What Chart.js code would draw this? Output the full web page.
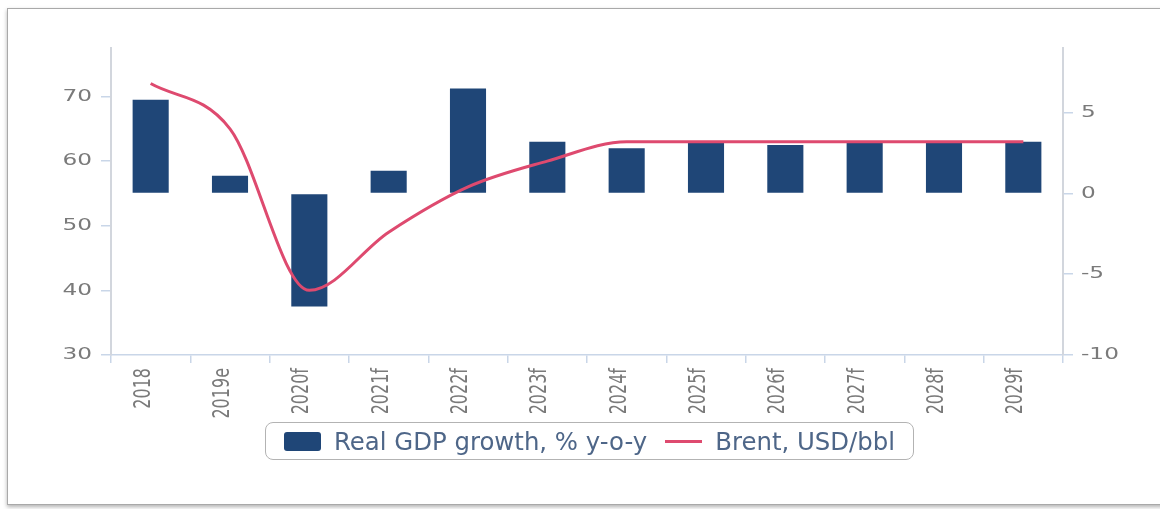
<!DOCTYPE html>
<html>
<head>
<meta charset="utf-8">
<script src="https://cdn.jsdelivr.net/npm/chart.js@4.4.1/dist/chart.umd.min.js"></script>
<style>
  html, body { margin: 0; padding: 0; background: #fff; }
  .wrap { position: relative; width: 1160px; height: 509px; overflow: hidden; }
  .frame {
    position: absolute; left: 7px; top: 8px; width: 1180px; height: 495px;
    border: 1.5px solid #a9a9a9; box-shadow: 0 2px 4px rgba(0, 0, 0, 0.3);
    pointer-events: none;
  }
  #gdpChart { position: absolute; left: 0; top: 0; }
  .legend {
    position: absolute; left: 265px; top: 422px; width: 649px; height: 38px;
    box-sizing: border-box; border: 1.5px solid #b3b3b3; border-radius: 8px;
    display: flex; align-items: center; padding-left: 18px;
    font-family: "DejaVu Sans", sans-serif; font-size: 24.4px; color: #4e6688;
    white-space: nowrap;
  }
  .legend .bar-swatch { width: 37px; height: 19px; border-radius: 3px; margin-right: 13px; }
  .legend .line-swatch { width: 37px; height: 3px; margin: 0 13px 0 18px; }
</style>
</head>
<body>
<div class="wrap">
  <canvas id="gdpChart" width="1160" height="509"></canvas>
  <div class="frame"></div>
  <div class="legend" id="legend"></div>
</div>
<script>
const categories = ['2018', '2019e', '2020f', '2021f', '2022f', '2023f', '2024f', '2025f', '2026f', '2027f', '2028f', '2029f'];
const gdpGrowth = [5.8, 1.1, -7.0, 1.4, 6.5, 3.2, 2.8, 3.2, 3.0, 3.2, 3.2, 3.2];
const brentPrice = [72, 65, 40, 49, 56, 60, 63, 63, 63, 63, 63, 63];
const brentTicks = [30, 40, 50, 60, 70];
const gdpTicks = [-10, -5, 0, 5];

const GDP_LABEL = 'Real GDP growth, % y-o-y';
const BRENT_LABEL = 'Brent, USD/bbl';
const NAVY = '#1f4677';
const PINK = '#de4a6f';
const AXIS = '#c9d6e8';
const TICK_TEXT = '#7a7a7a';
const STRETCH = 1.45;

// tick labels are drawn by hand so they can be widened a little
function drawStretched(ctx, text, x, y, align, rotate) {
  ctx.save();
  ctx.translate(x, y);
  ctx.scale(STRETCH, 1);
  if (rotate) ctx.rotate(-Math.PI / 2);
  ctx.textAlign = align;
  ctx.textBaseline = 'middle';
  ctx.fillText(text, 0, 0);
  ctx.restore();
}

const tickLabels = {
  id: 'tickLabels',
  afterDraw(chart) {
    const { ctx, scales } = chart;
    ctx.save();
    ctx.fillStyle = TICK_TEXT;
    ctx.font = '16px "DejaVu Sans"';
    scales.y.ticks.forEach((t) => {
      drawStretched(ctx, String(t.value), 92, scales.y.getPixelForValue(t.value), 'right', false);
    });
    scales.y1.ticks.forEach((t) => {
      drawStretched(ctx, String(t.value), 1081, scales.y1.getPixelForValue(t.value), 'left', false);
    });
    chart.data.labels.forEach((label, i) => {
      drawStretched(ctx, label, scales.x.getPixelForValue(i) - 7, 368, 'right', true);
    });
    ctx.restore();
  }
};

function keepTicks(values) {
  return (scale) => {
    scale.ticks = scale.ticks.filter((t) => values.includes(t.value));
  };
}

function axisGrid(tickLength) {
  return { drawOnChartArea: false, tickLength, color: AXIS, lineWidth: 1.5 };
}

new Chart(document.getElementById('gdpChart'), {
  type: 'bar',
  data: {
    labels: categories,
    datasets: [
      {
        type: 'line',
        label: BRENT_LABEL,
        data: brentPrice,
        yAxisID: 'y',
        borderColor: PINK,
        borderWidth: 3,
        pointRadius: 0,
        cubicInterpolationMode: 'monotone',
        order: 0
      },
      {
        type: 'bar',
        label: GDP_LABEL,
        data: gdpGrowth,
        yAxisID: 'y1',
        backgroundColor: NAVY,
        borderWidth: 0,
        barPercentage: 0.455,
        categoryPercentage: 1,
        order: 1
      }
    ]
  },
  options: {
    responsive: false,
    animation: false,
    layout: { padding: { top: 48, bottom: 124, left: 0, right: 0 } },
    plugins: { legend: { display: false }, tooltip: { enabled: false } },
    scales: {
      x: {
        grid: { ...axisGrid(8), offset: true },
        border: { color: AXIS, width: 1.5 },
        ticks: { display: false },
        afterFit: (scale) => { scale.height = 30; }
      },
      y: {
        position: 'left',
        min: 30,
        max: 77.5,
        ticks: { display: false, stepSize: 10 },
        afterBuildTicks: keepTicks(brentTicks),
        grid: axisGrid(10),
        border: { color: '#d2d6dd', width: 2 },
        afterFit: (scale) => { scale.width = 111; }
      },
      y1: {
        position: 'right',
        min: -10,
        max: 9,
        ticks: { display: false, stepSize: 5 },
        afterBuildTicks: keepTicks(gdpTicks),
        grid: axisGrid(10),
        border: { color: '#d2d6dd', width: 2 },
        afterFit: (scale) => { scale.width = 97; }
      }
    }
  },
  plugins: [tickLabels]
});

document.getElementById('legend').innerHTML = `
  <span class="bar-swatch" style="background:${NAVY}"></span><span>${GDP_LABEL}</span>
  <span class="line-swatch" style="background:${PINK}"></span><span>${BRENT_LABEL}</span>
`;
</script>
</body>
</html>
